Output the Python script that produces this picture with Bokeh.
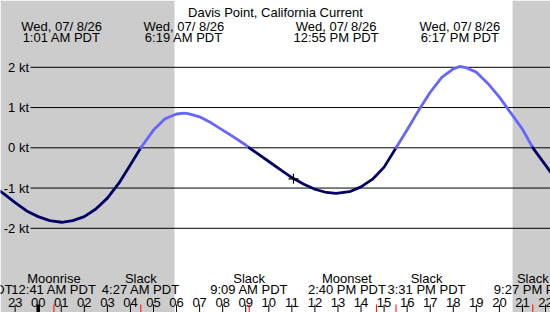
from bokeh.plotting import figure
from bokeh.models import Range1d, ColumnDataSource
from bokeh.core.properties import value
from bokeh.embed import file_html
from bokeh.resources import INLINE

# ---------------- data ----------------
title = "Davis Point, California Current"
date_label = "Wed, 07/ 8/26"

# current speed (kt) vs. hour of day (negative = previous day)
hours = [-1.64, -1.5, -1.0, -0.5, 0.0, 0.5, 1.02, 1.5, 2.0, 2.5, 3.0, 3.5, 4.0, 4.45,
         5.0, 5.5, 6.0, 6.32, 6.5, 7.0, 7.5, 8.0, 8.5, 9.0, 9.15,
         9.5, 10.0, 10.5, 11.0, 11.5, 12.0, 12.5, 12.92, 13.5, 14.0, 14.5, 15.0, 15.52,
         16.0, 16.5, 17.0, 17.5, 18.0, 18.28, 18.5, 19.0, 19.5, 20.0, 20.5, 21.0, 21.45,
         22.0, 22.25]
speeds = [-1.08, -1.14, -1.36, -1.57, -1.71, -1.81, -1.85, -1.81, -1.71, -1.52, -1.25, -0.88, -0.42, 0.0,
          0.44, 0.72, 0.84, 0.86, 0.85, 0.77, 0.62, 0.44, 0.26, 0.07, 0.0,
          -0.14, -0.34, -0.54, -0.74, -0.90, -1.03, -1.11, -1.13, -1.09, -0.97, -0.78, -0.48, 0.0,
          0.45, 0.93, 1.38, 1.75, 1.96, 2.02, 2.00, 1.88, 1.60, 1.26, 0.86, 0.46, 0.0,
          -0.43, -0.63]

# max current events (top labels)
max_times = [1.017, 6.317, 12.917, 18.283]
max_labels = ["1:01 AM PDT", "6:19 AM PDT", "12:55 PM PDT", "6:17 PM PDT"]

# bottom events
event_times = [-2.8, 0.683, 4.45, 9.15, 14.667, 15.517, 21.45]
event_names = ["Slack", "Moonrise", "Slack", "Slack", "Moonset", "Slack", "Slack"]
event_labels = ["9:12 PM PDT", "12:41 AM PDT", "4:27 AM PDT", "9:09 AM PDT",
                "2:40 PM PDT", "3:31 PM PDT", "9:27 PM PDT"]

sunrise = 5.91
sunset = 20.57
now_time = 11.07
now_speed = -0.77

kt_levels = [2, 1, 0, -1, -2]
hour_ticks = list(range(-1, 23))

# ---------------- layout constants (pixels) ----------------
W, H = 550, 312
midnight_px = 37.7
px_per_hour = 23.06
zero_px = 147.3
px_per_kt = 40.25
# horizontal shift (px) of each bottom event label to keep them apart
label_shift_px = [0, 0, 0, 0, -29.5, 30.5, 0]

x_start = -midnight_px / px_per_hour
x_end = (W - midnight_px) / px_per_hour
y_top = zero_px / px_per_kt
y_bot = -(H - zero_px) / px_per_kt


def py(ypx):
    return (zero_px - ypx) / px_per_kt


def dx(px):
    return px / px_per_hour


FONT = value("Liberation Sans")
FS = "13px"
FLOOD = "#6666ff"
EBB = "#000066"

p = figure(width=W, height=H, x_range=Range1d(x_start, x_end), y_range=Range1d(y_bot, y_top),
           output_backend="svg", toolbar_location=None, min_border=0,
           x_axis_type=None, y_axis_type=None, outline_line_color=None,
           background_fill_color="white", border_fill_color="white")
p.grid.visible = False

# night shading
p.quad(left=[x_start, sunset], right=[sunrise, x_end], bottom=y_bot, top=y_top,
       fill_color="#cccccc", line_color=None)

# grid lines
grid_x0 = x_start + dx(30)
p.segment(x0=[grid_x0] * len(kt_levels), y0=kt_levels, x1=[x_end] * len(kt_levels), y1=kt_levels,
          line_color="black", line_width=1)
p.text(x=[x_start + dx(28.5)] * len(kt_levels), y=kt_levels, text=[f"{v} kt" for v in kt_levels],
       text_align="right", text_baseline="middle", text_font=FONT, text_font_size=FS,
       text_color="black")

# curve split into flood / ebb segments
groups = []
cx, cy = [hours[0]], [speeds[0]]
csign = None if speeds[0] == 0 else (speeds[0] > 0)
for t, v in zip(hours[1:], speeds[1:]):
    cx.append(t)
    cy.append(v)
    if v == 0:
        groups.append((cx, cy, csign))
        cx, cy, csign = [t], [v], None
    elif csign is None:
        csign = v > 0
if len(cx) > 1:
    groups.append((cx, cy, csign))
src = ColumnDataSource(dict(xs=[g[0] for g in groups], ys=[g[1] for g in groups],
                            color=[FLOOD if g[2] else EBB for g in groups]))
p.multi_line(xs="xs", ys="ys", line_color="color", line_width=2.8, line_join="round",
             line_cap="round", source=src)

# current-time marker
p.scatter(x=[now_time], y=[now_speed], marker="cross", size=10, line_color="black", line_width=1.2)

# title and top labels
p.text(x=[(x_start + x_end) / 2], y=[py(12.3)], text=[title], text_align="center",
       text_baseline="alphabetic", text_font=FONT, text_font_size=FS, text_color="black")
p.text(x=max_times, y=[py(25.7)] * len(max_times), text=[date_label] * len(max_times),
       text_align="center", text_baseline="alphabetic", text_font=FONT, text_font_size=FS,
       text_color="black")
p.text(x=max_times, y=[py(36.7)] * len(max_times), text=max_labels,
       text_align="center", text_baseline="alphabetic", text_font=FONT, text_font_size=FS,
       text_color="black")

# bottom event labels
label_x = [t + dx(s) for t, s in zip(event_times, label_shift_px)]
p.text(x=label_x, y=[py(278.3)] * len(event_times), text=event_names,
       text_align="center", text_baseline="alphabetic", text_font=FONT, text_font_size=FS,
       text_color="black")
p.text(x=label_x, y=[py(289.3)] * len(event_times), text=event_labels,
       text_align="center", text_baseline="alphabetic", text_font=FONT, text_font_size=FS,
       text_color="black")

# hour labels and ticks
p.text(x=hour_ticks, y=[py(301.7)] * len(hour_ticks), text=[f"{h % 24:02d}" for h in hour_ticks],
       text_align="center", text_baseline="alphabetic", text_font=FONT, text_font_size=FS,
       text_color="black")
normal = [h for h in hour_ticks if h % 24 != 0]
mids = [h for h in hour_ticks if h % 24 == 0]
p.segment(x0=normal, y0=[py(304)] * len(normal), x1=normal, y1=[py(312)] * len(normal),
          line_color="black", line_width=1)
p.segment(x0=mids, y0=[py(304)] * len(mids), x1=mids, y1=[py(312)] * len(mids),
          line_color="black", line_width=3.5)
p.segment(x0=event_times, y0=[py(304)] * len(event_times), x1=event_times,
          y1=[py(312)] * len(event_times), line_color="red", line_width=1)

open("out.html", "w").write(file_html(p, INLINE))
